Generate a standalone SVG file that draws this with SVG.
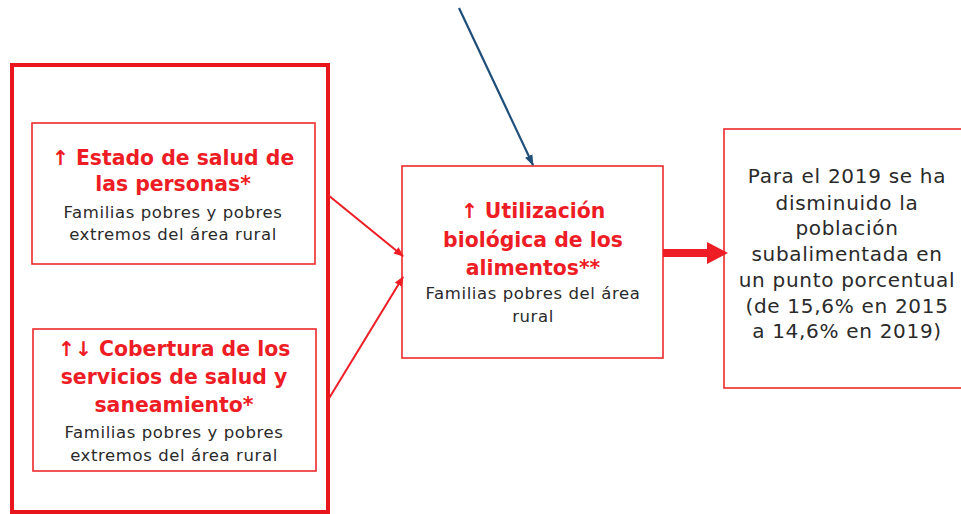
<svg xmlns="http://www.w3.org/2000/svg" width="961" height="514" viewBox="0 0 961 514">
<style>
.box{fill:#fff;stroke:#ee2a2a;stroke-width:1.6}
.outer{fill:none;stroke:#e8161c;stroke-width:4}
.t{font-family:"DejaVu Sans","Noto Sans",sans-serif;text-anchor:middle}
.r{fill:#ee1c24;font-weight:bold;font-size:20.4px}
.k{fill:#2a2a2a;font-size:16.5px;letter-spacing:0.6px}
.p{fill:#2a2a2a;font-size:20px;letter-spacing:0.7px}
</style>
<defs>
<marker id="ar" markerWidth="10" markerHeight="10" refX="9" refY="5" orient="auto" markerUnits="userSpaceOnUse">
<path d="M0,1 L10,5 L0,9 Z" fill="#ee1c24"/>
</marker>
<marker id="ab" markerWidth="11" markerHeight="11" refX="10" refY="5.5" orient="auto" markerUnits="userSpaceOnUse">
<path d="M0,1.5 L11,5.5 L0,9.5 Z" fill="#1f4e79"/>
</marker>
</defs>
<rect width="961" height="514" fill="#fff"/>
<g id="outer-group"><rect class="outer" x="12" y="65" width="316" height="447"/></g>
<g id="n-salud">
<rect class="box" x="32" y="123" width="283" height="141"/>
<text class="t r" x="173" y="165">↑ Estado de salud de</text>
<text class="t r" x="173" y="191">las personas*</text>
<text class="t k" x="173" y="218">Familias pobres y pobres</text>
<text class="t k" x="173" y="240">extremos del área rural</text>
</g>
<g id="n-cobertura">
<rect class="box" x="33" y="329" width="283" height="142"/>
<text class="t r" x="174" y="356">↑↓ Cobertura de los</text>
<text class="t r" x="174" y="384">servicios de salud y</text>
<text class="t r" x="174" y="412">saneamiento*</text>
<text class="t k" x="174" y="438">Familias pobres y pobres</text>
<text class="t k" x="174" y="461">extremos del área rural</text>
</g>
<g id="n-utilizacion">
<rect class="box" x="402" y="166" width="261" height="192"/>
<text class="t r" x="533" y="218">↑ Utilización</text>
<text class="t r" x="533" y="247">biológica de los</text>
<text class="t r" x="533" y="275">alimentos**</text>
<text class="t k" x="533" y="299">Familias pobres del área</text>
<text class="t k" x="533" y="322">rural</text>
</g>
<g id="n-resultado">
<rect class="box" x="724" y="129" width="250" height="259"/>
<text class="t p" x="847" y="183">Para el 2019 se ha</text>
<text class="t p" x="847" y="210">disminuido la</text>
<text class="t p" x="847" y="235">población</text>
<text class="t p" x="847" y="261">subalimentada en</text>
<text class="t p" x="847" y="287">un punto porcentual</text>
<text class="t p" x="847" y="313">(de 15,6% en 2015</text>
<text class="t p" x="847" y="338">a 14,6% en 2019)</text>
</g>
<g id="connectors">
<line x1="459" y1="8" x2="533" y2="165" stroke="#1f4e79" stroke-width="2.2" marker-end="url(#ab)"/>
<line x1="328" y1="195" x2="403" y2="256" stroke="#ee1c24" stroke-width="2" marker-end="url(#ar)"/>
<line x1="328" y1="400" x2="403" y2="277" stroke="#ee1c24" stroke-width="2" marker-end="url(#ar)"/>
<line x1="663" y1="253" x2="709" y2="253" stroke="#ee1c24" stroke-width="8"/>
<path d="M707,242 L728,253 L707,264 Z" fill="#ee1c24"/>
</g>
</svg>
